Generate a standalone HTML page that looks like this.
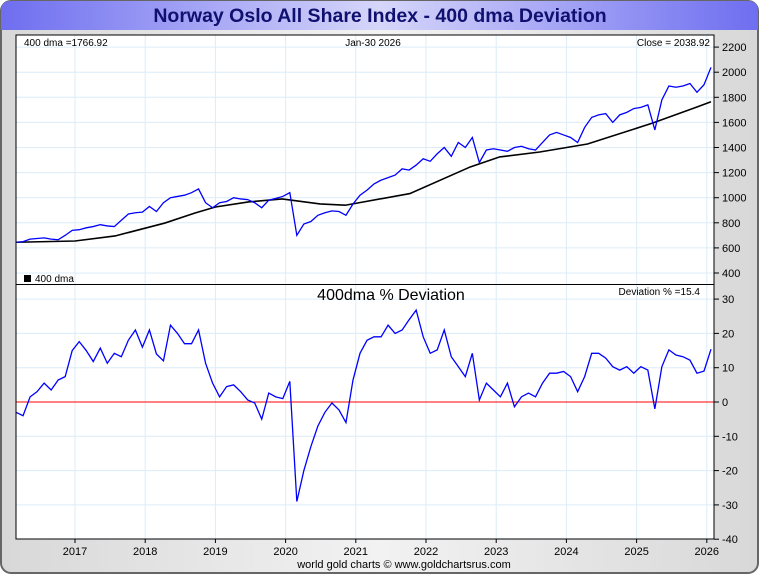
<!DOCTYPE html>
<html><head><meta charset="utf-8"><style>
body{margin:0;width:760px;height:575px;overflow:hidden;font-family:"Liberation Sans",sans-serif;background:#fff}
</style></head><body>
<svg id="c" width="760" height="575" xmlns="http://www.w3.org/2000/svg">
<defs>
<linearGradient id="tg" x1="0" x2="1" y1="0" y2="0"><stop offset="0" stop-color="#6e6ef0"/><stop offset="0.5" stop-color="#d6d6fa"/><stop offset="1" stop-color="#6e6ef0"/></linearGradient>
<linearGradient id="bg" x1="0" x2="1" y1="0" y2="0"><stop offset="0" stop-color="#d8d8d8"/><stop offset="0.5" stop-color="#f2f2f2"/><stop offset="1" stop-color="#d8d8d8"/></linearGradient>
</defs>
<rect x="1" y="1" width="757" height="572" rx="10" fill="url(#bg)" stroke="#666" stroke-width="2"/>
<path d="M1,30 L1,11 Q1,1 11,1 L748,1 Q758,1 758,11 L758,30 Z" fill="url(#tg)"/>
<text x="380" y="22" text-anchor="middle" font-size="19.5" font-weight="bold" fill="#101070">Norway Oslo All Share Index - 400 dma Deviation</text>
<rect x="16" y="35" width="698" height="504" fill="#fff" stroke="#000"/>
<g id="grid"></g>
<g id="marks"></g>
<line x1="16" y1="284.5" x2="714" y2="284.5" stroke="#000"/>
<rect x="16" y="35" width="698" height="504" fill="none" stroke="#000"/>
<g id="axes" font-size="11" fill="#000"></g>
<text x="24" y="46" font-size="10">400 dma =1766.92</text>
<text x="373" y="46" font-size="10" text-anchor="middle">Jan-30  2026</text>
<text x="710" y="46" font-size="10" text-anchor="end">Close = 2038.92</text>
<rect x="24" y="275" width="7" height="7" fill="#000"/>
<text x="35" y="282" font-size="10">400 dma</text>
<text x="391" y="300" font-size="16" text-anchor="middle">400dma  %  Deviation</text>
<text x="700" y="295" font-size="10" text-anchor="end">Deviation % =15.4</text>
<text x="404" y="568" font-size="11" text-anchor="middle">world gold charts © www.goldchartsrus.com</text>
</svg>
<script>
const startYear = 2016.16, stepYear = 0.1;
const priceValues = [645,650,670,675,680,670,665,700,
740,745,760,770,785,775,770,820,870,880,
885,930,890,960,1000,1010,1020,1040,1070,960,
920,960,970,1000,990,985,960,920,980,995,
1010,1040,700,790,810,860,880,895,890,860,
950,1020,1060,1110,1140,1160,1180,1230,1220,1260,
1310,1290,1350,1400,1330,1440,1400,1480,1280,1380,
1390,1380,1370,1400,1410,1390,1380,1440,1500,1520,
1500,1480,1440,1560,1640,1660,1670,1600,1660,1680,
1710,1720,1740,1540,1780,1890,1880,1890,1910,1840,
1900,2039];
const dmaYears = [2016.16,2017.0,2017.57,2018.28,2018.71,2019.0,2019.47,2019.95,2020.49,2020.85,2021.77,2022.63,2023.05,2023.62,2024.3,2025.23,2025.86,2026.06];
const dmaValues = [645,655,695,798,878,926,966,990,950,940,1033,1245,1325,1364,1428,1595,1723,1765];
const deviationValues = [-3,-4,1.5,3,5.5,3.5,6.4,7.4,
15,17.6,15,11.8,15.7,11.3,14.2,13.2,18,21,
16,21,14,12,22.4,20,17,17,21,11.3,
5.5,1.5,4.5,5,3,0.6,-0.3,-5,2.6,1.5,
1,6,-29,-20,-13,-7,-3,-0.3,-2.3,-6,
6.4,14.2,18,19,19,22.4,20,21,24,26.8,
19,14.2,15.2,21,13.2,10.3,7.4,14.2,0.6,5.5,
3.5,1.5,5.5,-1.4,1.5,2.6,1.5,5.5,8.4,8.4,
8.9,7.4,3,7.4,14.2,14.2,12.8,10.3,9.3,10.3,
8.4,10.3,9.3,-2,10.3,15.2,13.7,13.2,12.2,8.4,
9,15.4];
const yearTicks = [2017,2018,2019,2020,2021,2022,2023,2024,2025,2026];
const priceTicks = [400,600,800,1000,1200,1400,1600,1800,2000,2200];
const devTicks = [-40,-30,-20,-10,0,10,20,30];

const NS="http://www.w3.org/2000/svg";
const xS = y => 75 + (y-2017)*70.2;
const yP = v => 273 - (v-400)/200*25.1;
const yD = v => 402 - v/10*34.3;
function mk(tag, attrs, parent){const e=document.createElementNS(NS,tag);for(const k in attrs)e.setAttribute(k,attrs[k]);parent.appendChild(e);return e;}
const grid=document.getElementById('grid'), marks=document.getElementById('marks'), axes=document.getElementById('axes');
yearTicks.forEach(yr=>{
  const x=xS(yr);
  let l=mk('line',{x1:x,x2:x,y1:35,y2:539,stroke:'#dcecf8'},grid);
  
  
  let t=mk('line',{x1:x,x2:x,y1:539,y2:543,stroke:'#000'},axes);
  
  
  let tx=mk('text',{x:x,y:555,'text-anchor':'middle'},axes);tx.textContent=yr;
  
  
});
priceTicks.forEach(v=>{
  const y=yP(v);
  let l=mk('line',{x1:16,x2:714,y1:y,y2:y,stroke:'#dcecf8'},grid);
  
  
  let t=mk('line',{x1:714,x2:719,y1:y,y2:y,stroke:'#000'},axes);
  
  
  let tx=mk('text',{x:722,y:y+4},axes);tx.textContent=v;
  
  
});
devTicks.forEach(v=>{
  const y=yD(v);
  let l=mk('line',{x1:16,x2:714,y1:y,y2:y,stroke:'#dcecf8'},grid);
  
  
  let t=mk('line',{x1:714,x2:719,y1:y,y2:y,stroke:'#000'},axes);
  
  
  let tx=mk('text',{x:722,y:y+4},axes);tx.textContent=v;
  
  
});
let zl=mk('line',{x1:16,x2:714,y1:yD(0),y2:yD(0),stroke:'#ff0000'},marks);


let dp=mk('polyline',{fill:'none',stroke:'#000','stroke-width':1.6,points:dmaValues.map((v,i)=>xS(dmaYears[i])+','+yP(v)).join(' ')},marks);


let pp=mk('polyline',{fill:'none',stroke:'#0000ff','stroke-width':1.3,points:priceValues.map((v,i)=>xS(startYear+i*stepYear)+','+yP(v)).join(' ')},marks);


let dv=mk('polyline',{fill:'none',stroke:'#0000ff','stroke-width':1.3,points:deviationValues.map((v,i)=>xS(startYear+i*stepYear)+','+yD(v)).join(' ')},marks);


</script>
</body></html>
